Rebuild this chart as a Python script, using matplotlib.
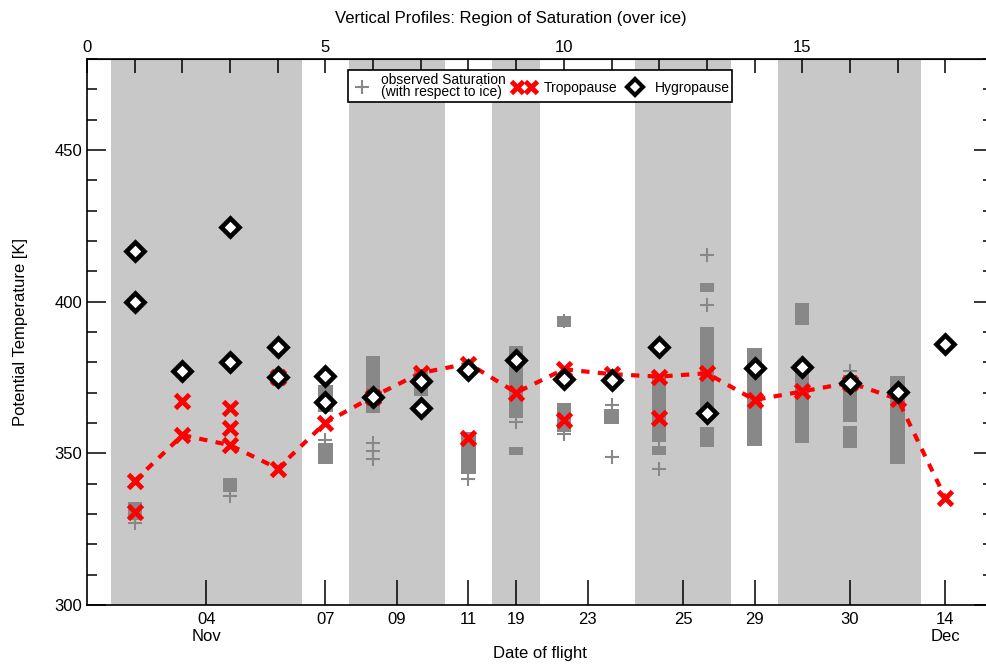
import numpy as np
import matplotlib
matplotlib.use("Agg")
import matplotlib.pyplot as plt
from matplotlib.lines import Line2D
from matplotlib.legend_handler import HandlerLine2D

plt.rcParams['font.family'] = ['Liberation Sans', 'DejaVu Sans']
plt.rcParams['font.size'] = 12

# flight dates (bottom axis) and number of flights on each date
date_labels = ["04\nNov", "07", "09", "11", "19", "23", "25", "29", "30", "14\nDec"]
flights_per_date = [4, 1, 2, 1, 1, 2, 2, 1, 3, 1]

# main tropopause per flight (flights 1..18), joined by the dashed line
trop_main = [340.9, 356.0, 352.7, 345.0, 360.1, 368.7, 376.5, 379.6, 370.0,
             377.7, 376.1, 375.3, 376.4, 367.6, 370.4, 373.3, 367.9, 335.3]
# further tropopauses
trop_extra_flight = [1, 2, 3, 3, 4, 8, 10, 12]
trop_extra_theta = [330.7, 367.2, 364.8, 358.2, 375.3, 354.9, 361.0, 361.8]

# hygropause
hygro_flight = [1, 1, 2, 3, 3, 4, 4, 5, 5, 6, 7, 7, 8, 9, 10, 11, 12, 13, 14, 15, 16, 17, 18]
hygro_theta = [416.8, 400.0, 377.2, 424.7, 380.0, 384.9, 375.3, 375.5, 367.0, 368.7, 373.9,
               365.1, 377.6, 380.8, 374.5, 374.2, 385.1, 363.2, 378.0, 378.5, 373.3, 370.1, 386.0]

# observed saturation: continuous layers
sat_bar_flight = [1, 3, 5, 5, 6, 7, 8, 9, 9, 10, 10, 11, 12, 12, 13, 13, 13, 14, 15, 15, 16, 16, 17]
sat_bar_lo = [328.0, 337.2, 363.7, 346.5, 363.2, 368.9, 343.2, 361.7, 349.4, 391.7, 357.1, 359.6,
              353.8, 349.4, 403.3, 364.3, 352.2, 352.4, 392.4, 353.4, 360.4, 351.8, 346.5]
sat_bar_hi = [334.0, 341.9, 372.5, 353.3, 382.1, 377.7, 357.1, 385.4, 352.0, 395.3, 366.7, 364.6,
              375.3, 352.4, 406.2, 391.5, 358.8, 384.6, 399.7, 378.4, 375.7, 359.0, 375.5]
# observed saturation: single levels
sat_pt_flight = [1, 3, 5, 6, 6, 6, 8, 9, 10, 10, 11, 11, 12, 12, 13, 13, 16]
sat_pt_theta = [327.0, 336.0, 354.4, 353.3, 350.9, 348.0, 341.5, 360.4, 393.5, 356.5,
                348.9, 366.0, 345.0, 354.0, 415.4, 398.9, 377.0]

flights = np.arange(1, len(trop_main) + 1)

# tick position of each date = middle of its flights, shading every other date
ends = np.cumsum(flights_per_date)
starts = ends - np.array(flights_per_date) + 1
date_pos = (starts + ends) / 2.0

fig = plt.figure(figsize=(9.86, 6.66), dpi=100)
ax = fig.add_axes([87 / 986, 61 / 666, 906 / 986, 546 / 666])

for i in range(0, len(starts), 2):
    ax.axvspan(starts[i] - 0.5, ends[i] + 0.5, color='#c8c8c8', lw=0, zorder=0)

sat_c = '#888888'
ax.bar(sat_bar_flight, np.array(sat_bar_hi) - np.array(sat_bar_lo), bottom=sat_bar_lo,
       width=0.3, color=sat_c, zorder=2)
ax.plot(sat_pt_flight, sat_pt_theta, '+', color=sat_c, ms=10, mew=1.5, zorder=2)

ax.plot(flights, trop_main, color='red', lw=3, ls=(0, (2, 2)), zorder=3)
ax.plot(flights, trop_main, 'x', color='red', ms=10, mew=3.5, zorder=4)
ax.plot(trop_extra_flight, trop_extra_theta, 'x', color='red', ms=10, mew=3.5, zorder=4)
ax.plot(hygro_flight, hygro_theta, 'D', color='black', mfc='white', ms=9, mew=3.3, zorder=5)

ax.set_xlim(0, 19)
ax.set_ylim(300, 480)
ax.set_yticks(np.arange(300, 481, 50))
ax.set_yticks(np.arange(300, 481, 10), minor=True)
ax.set_xticks(date_pos)
ax.set_xticklabels(date_labels)
ax.tick_params(axis='x', direction='in', length=18, width=1.1, pad=5, top=False)
ax.tick_params(axis='y', which='major', direction='in', length=14, width=1.1, right=True)
ax.tick_params(axis='y', which='minor', direction='in', length=7, width=1.1, right=True)
for s in ax.spines.values():
    s.set_linewidth(1.2)

top = ax.secondary_xaxis('top')
top.set_xticks(np.arange(0, 20, 1))
top.set_xticklabels([str(v) if v % 5 == 0 else '' for v in range(20)])
top.tick_params(direction='in', length=10, width=1.1, pad=3)

ax.set_ylabel("Potential Temperature [K]", labelpad=19)
ax.set_xlabel("Date of flight", labelpad=1)
fig.text(511 / 986, 1 - 18 / 666, "Vertical Profiles: Region of Saturation (over ice)",
         ha='center', va='center')

h_sat = Line2D([], [], marker='+', color=sat_c, ls='none', ms=10, mew=1.5)
h_trop = Line2D([], [], marker='x', color='red', ls='none', ms=9, mew=3.5)
h_hyg = Line2D([], [], marker='D', color='black', mfc='white', ls='none', ms=8, mew=3)
leg = ax.legend([h_sat, h_trop, h_hyg],
                ["observed Saturation\n(with respect to ice)", "Tropopause", "Hygropause"],
                ncol=3, loc='upper left', bbox_to_anchor=(0.288, 0.979), borderaxespad=0,
                fontsize=10, fancybox=False, framealpha=1, edgecolor='black', borderpad=0.2,
                handlelength=1.6, handletextpad=0.6, columnspacing=0.5,
                handler_map={h_trop: HandlerLine2D(numpoints=2)})
leg.get_frame().set_linewidth(1.2)
leg.get_texts()[0].set_linespacing(0.8)

fig.savefig("out.png", dpi=100)
